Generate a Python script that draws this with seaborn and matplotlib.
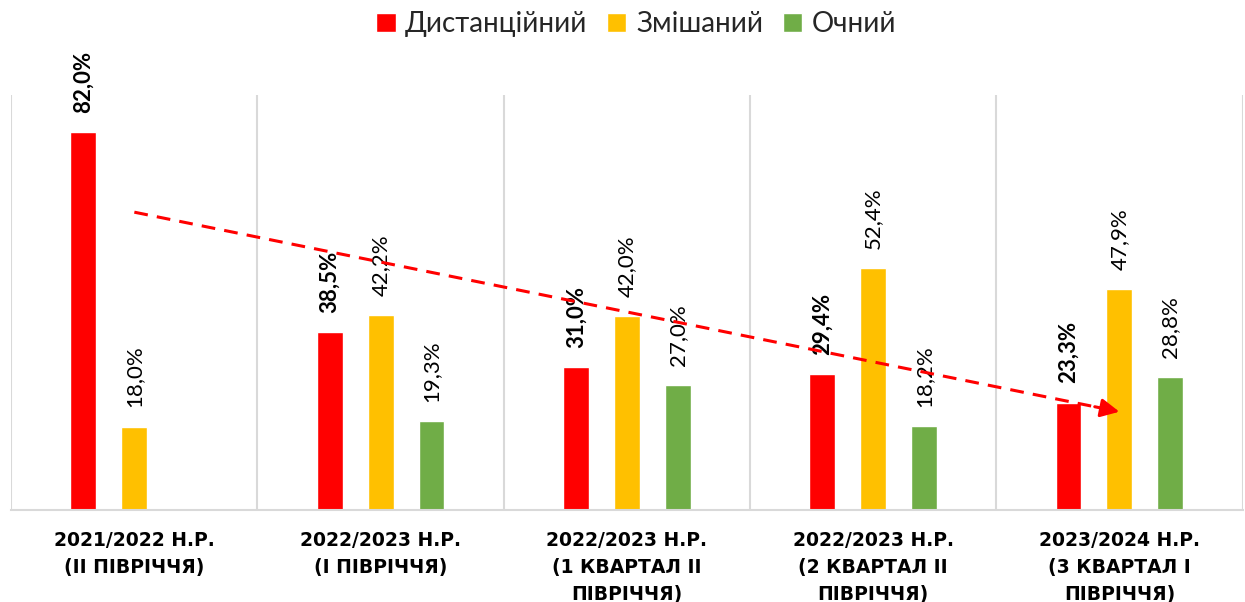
import numpy as np
import pandas as pd
import matplotlib
matplotlib.use('Agg')
import matplotlib.pyplot as plt
import seaborn as sns

# Дані з діаграми (%)
periods = [
    '2021/2022 Н.Р.\n(ІІ ПІВРІЧЧЯ)',
    '2022/2023 Н.Р.\n(І ПІВРІЧЧЯ)',
    '2022/2023 Н.Р.\n(1 КВАРТАЛ ІІ\nПІВРІЧЧЯ)',
    '2022/2023 Н.Р.\n(2 КВАРТАЛ ІІ\nПІВРІЧЧЯ)',
    '2023/2024 Н.Р.\n(3 КВАРТАЛ І\nПІВРІЧЧЯ)',
]
modes = ['Дистанційний', 'Змішаний', 'Очний']
distance = [82.0, 38.5, 31.0, 29.4, 23.3]
mixed = [18.0, 42.2, 42.0, 52.4, 47.9]
inperson = [np.nan, 19.3, 27.0, 18.2, 28.8]
colors = ['#FF0000', '#FFC000', '#70AD47']
# hand-drawn trend arrow: height at first and last period
trend_y = [64.6, 21.3]

df = pd.DataFrame({
    'period': periods * 3,
    'mode': np.repeat(modes, len(periods)),
    'value': distance + mixed + inperson,
})

sns.set_theme(style='white')
plt.rcParams['font.family'] = ['Lato', 'DejaVu Sans']

fig = plt.figure(figsize=(12.45, 6.02), dpi=100)
ax = fig.add_axes([0.009, 0.153, 0.989, 0.689])

sns.barplot(data=df, x='period', y='value', hue='mode', hue_order=modes,
            palette=colors, width=0.62, gap=0.49, saturation=1, ax=ax)

# value labels, distance ones in bold
for i, cont in enumerate(ax.containers):
    labels = [f'{v:.1f}%'.replace('.', ',') for v in cont.datavalues]
    ax.bar_label(cont, labels=labels, rotation=90, padding=14, fontsize=16,
                 fontweight='bold' if i == 0 else 'normal', color='black')

# dashed trend arrow
ax.plot([0, 4], trend_y, color='red', lw=2.2, dashes=(4.5, 3), zorder=5)
ax.annotate('', xy=(4, trend_y[1]),
            xytext=(3.9, trend_y[0] + (trend_y[1] - trend_y[0]) * 0.975),
            arrowprops=dict(arrowstyle='-|>,head_length=0.8,head_width=0.4',
                            color='red', lw=2.2, mutation_scale=14,
                            shrinkA=0, shrinkB=0), zorder=6)

# legend on top
handles, labels = ax.get_legend_handles_labels()
ax.get_legend().remove()
fig.legend(handles, labels, loc='center', bbox_to_anchor=(0.511, 0.96),
           ncol=3, frameon=False, fontsize=20, handlelength=0.7,
           handleheight=0.7, handletextpad=0.35, columnspacing=0.7)

ax.set_xlim(-0.5, 4.5)
ax.set_ylim(0, 90)
ax.set_xlabel('')
ax.set_ylabel('')
ax.set_yticks([])
ax.set_xticks(np.arange(-0.5, 5), minor=True)
ax.grid(True, which='minor', axis='x', color='#d9d9d9', lw=1.5)
ax.tick_params(axis='x', which='both', length=0)
ax.tick_params(axis='x', which='major', pad=15)
for lbl in ax.get_xticklabels():
    lbl.set_fontfamily('DejaVu Sans')
    lbl.set_fontweight('bold')
    lbl.set_fontsize(13.5)
    lbl.set_linespacing(1.55)
    lbl.set_color('black')

for s in ['top', 'left', 'right']:
    ax.spines[s].set_visible(False)
ax.spines['bottom'].set_color('#d9d9d9')
ax.spines['bottom'].set_linewidth(1.5)

fig.savefig('out.png', dpi=100)
